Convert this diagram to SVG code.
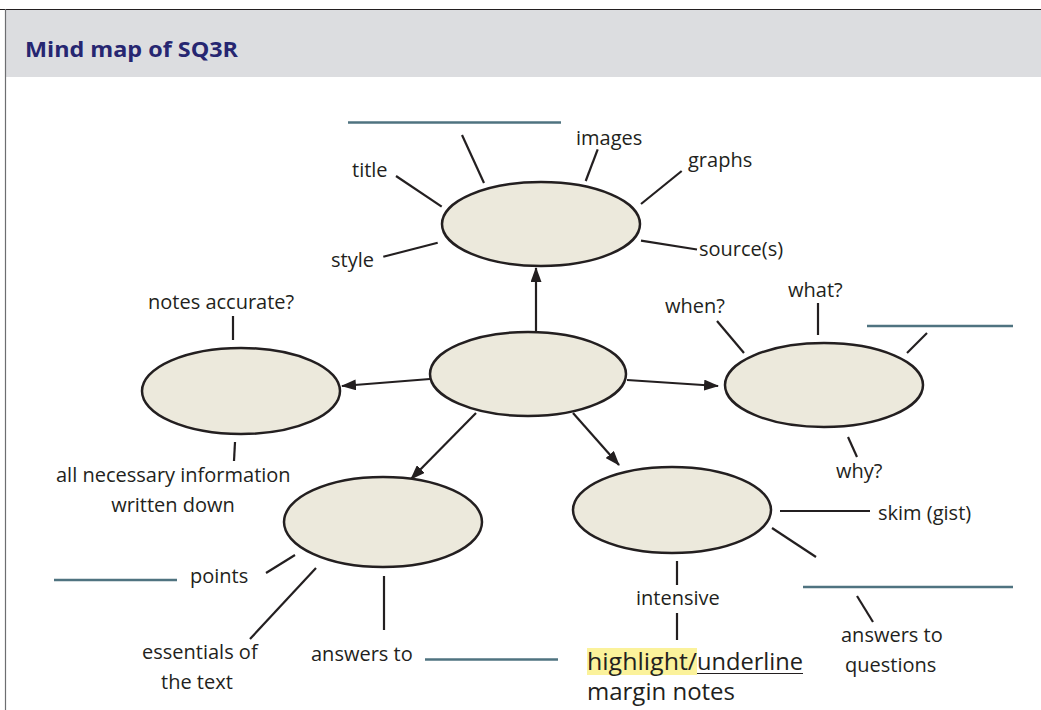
<svg xmlns="http://www.w3.org/2000/svg" width="1041" height="710" viewBox="0 0 1041 710">
<defs>
<style>
.t{font-family:"Open Sans","Noto Sans","Liberation Sans",sans-serif;font-size:20px;fill:#231f20}
.big{font-size:24px}
.el{fill:#ece9dc;stroke:#231f20;stroke-width:2.5}
.sp{stroke:#231f20;stroke-width:2.2;fill:none}
.bl{stroke:#4f7380;stroke-width:2.5;fill:none}
.ar{stroke:#231f20;stroke-width:2.2;fill:none;marker-end:url(#ah)}
</style>
<marker id="ah" viewBox="0 0 15 11" refX="14" refY="5.5" markerWidth="15" markerHeight="11" markerUnits="userSpaceOnUse" orient="auto">
<path d="M0,0 L15,5.5 L0,11 Z" fill="#231f20"/>
</marker>
</defs>
<rect x="0" y="0" width="1041" height="710" fill="#ffffff"/>
<rect x="5" y="9" width="1036" height="68" fill="#dcdde0"/>
<line x1="0" y1="9.5" x2="1041" y2="9.5" stroke="#231f20" stroke-width="1.2"/>
<line x1="5.5" y1="9" x2="5.5" y2="710" stroke="#6d6e71" stroke-width="1.2"/>
<text x="25" y="57" font-family="'Open Sans','Noto Sans',sans-serif" font-weight="bold" font-size="21" fill="#262671" textLength="213" lengthAdjust="spacingAndGlyphs">Mind map of SQ3R</text>

<g id="connectors">
<line class="ar" x1="536" y1="331" x2="536" y2="268"/>
<line class="ar" x1="430" y1="379" x2="342" y2="386"/>
<line class="ar" x1="627" y1="380" x2="718" y2="386"/>
<line class="ar" x1="476" y1="413" x2="411" y2="479"/>
<line class="ar" x1="573" y1="413" x2="619" y2="465"/>
</g>

<g id="node-top">
<ellipse class="el" cx="541" cy="224" rx="99" ry="42"/>
<line class="bl" x1="348" y1="122.5" x2="561" y2="122.5"/>
<line class="sp" x1="462" y1="135" x2="484" y2="183"/>
<line class="sp" x1="396" y1="176" x2="441.7" y2="206.7"/>
<line class="sp" x1="597.7" y1="149.3" x2="585.7" y2="181"/>
<line class="sp" x1="681.7" y1="171" x2="641" y2="204"/>
<line class="sp" x1="641" y1="240.7" x2="697" y2="249.5"/>
<line class="sp" x1="383.3" y1="256.7" x2="437.7" y2="242.7"/>
<text class="t" x="352" y="177">title</text>
<text class="t" x="576" y="145">images</text>
<text class="t" x="688" y="167">graphs</text>
<text class="t" x="699" y="256">source(s)</text>
<text class="t" x="331" y="267">style</text>
</g>

<g id="node-center">
<ellipse class="el" cx="528" cy="374" rx="98" ry="42"/>
</g>

<g id="node-left">
<ellipse class="el" cx="241" cy="391" rx="99" ry="43"/>
<line class="sp" x1="233" y1="316" x2="233" y2="340"/>
<line class="sp" x1="235" y1="442" x2="234" y2="461"/>
<text class="t" x="148" y="309">notes accurate?</text>
<text class="t" x="56" y="482">all necessary information</text>
<text class="t" x="173" y="512" text-anchor="middle">written down</text>
</g>

<g id="node-right">
<ellipse class="el" cx="824" cy="385" rx="99" ry="42"/>
<line class="sp" x1="717" y1="321" x2="744" y2="353"/>
<line class="sp" x1="818" y1="303" x2="818" y2="335"/>
<line class="bl" x1="867" y1="326" x2="1013" y2="326"/>
<line class="sp" x1="927" y1="333" x2="907" y2="353"/>
<line class="sp" x1="848" y1="437" x2="857" y2="457"/>
<text class="t" x="665" y="313">when?</text>
<text class="t" x="788" y="297">what?</text>
<text class="t" x="836" y="478">why?</text>
</g>

<g id="node-bottom-left">
<ellipse class="el" cx="383" cy="522" rx="99" ry="45"/>
<line class="bl" x1="54" y1="580" x2="177" y2="580"/>
<line class="sp" x1="266" y1="573" x2="295" y2="555"/>
<line class="sp" x1="316" y1="568" x2="250" y2="639"/>
<line class="sp" x1="384" y1="576" x2="384" y2="630"/>
<line class="bl" x1="425" y1="659.5" x2="558" y2="659.5"/>
<text class="t" x="190" y="583">points</text>
<text class="t" x="142" y="659">essentials of</text>
<text class="t" x="161" y="689">the text</text>
<text class="t" x="311" y="661">answers to</text>
</g>

<g id="node-bottom-right">
<ellipse class="el" cx="672" cy="510" rx="99" ry="43"/>
<line class="sp" x1="780" y1="511" x2="870" y2="511"/>
<line class="sp" x1="772" y1="528" x2="816" y2="557"/>
<line class="bl" x1="803" y1="587" x2="1013" y2="587"/>
<line class="sp" x1="857" y1="596" x2="873" y2="622"/>
<line class="sp" x1="677" y1="561" x2="677" y2="585"/>
<line class="sp" x1="677" y1="613" x2="677" y2="640"/>
<text class="t" x="878" y="520">skim (gist)</text>
<text class="t" x="636" y="605">intensive</text>
<text class="t" x="841" y="642">answers to</text>
<text class="t" x="845" y="672">questions</text>
<rect x="587" y="648" width="110" height="27" fill="#fbf29b"/>
<text class="t big" x="587" y="670" textLength="110" lengthAdjust="spacingAndGlyphs">highlight/</text>
<text class="t big" x="697" y="670" textLength="106" lengthAdjust="spacingAndGlyphs">underline</text>
<line x1="697" y1="673.5" x2="803" y2="673.5" stroke="#231f20" stroke-width="1.2"/>
<text class="t big" x="587" y="700">margin notes</text>
</g>
</svg>
